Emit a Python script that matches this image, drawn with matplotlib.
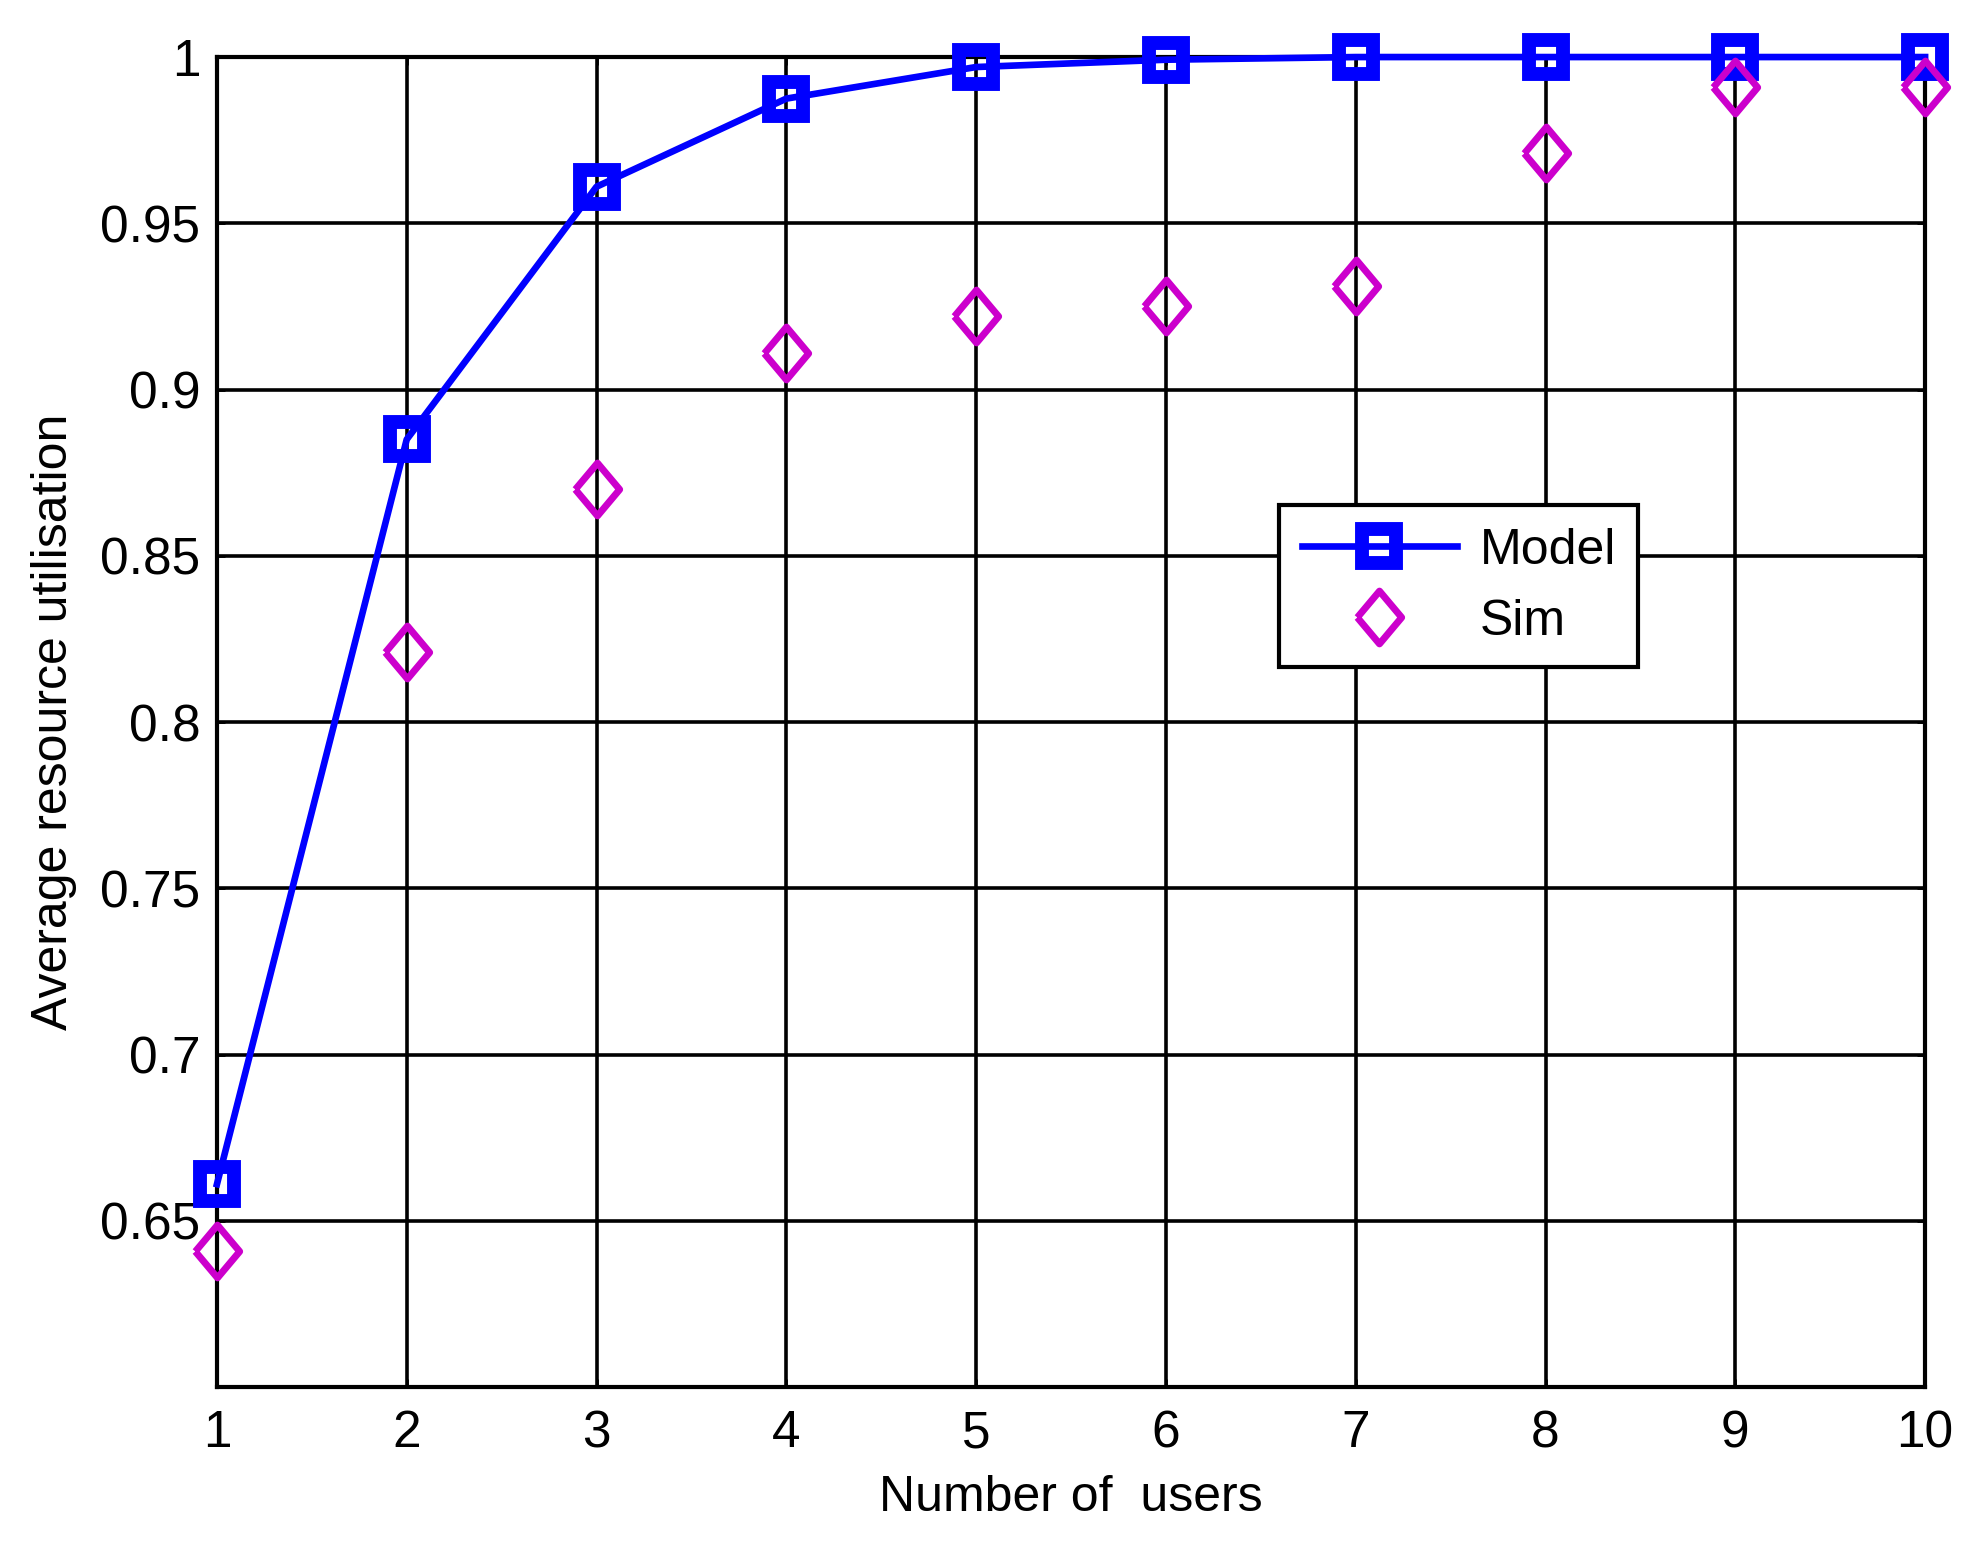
import matplotlib
matplotlib.use("Agg")
import matplotlib.pyplot as plt

plt.rcParams["font.family"] = ["Liberation Sans", "DejaVu Sans"]

# Data
users = [1, 2, 3, 4, 5, 6, 7, 8, 9, 10]
model = [0.661, 0.885, 0.961, 0.9875, 0.997, 0.9992, 1.0, 1.0, 1.0, 1.0]
sim = [0.641, 0.821, 0.870, 0.911, 0.922, 0.925, 0.931, 0.971, 0.991, 0.991]
yticks = [0.65, 0.7, 0.75, 0.8, 0.85, 0.9, 0.95, 1.0]
ytick_labels = ["0.65", "0.7", "0.75", "0.8", "0.85", "0.9", "0.95", "1"]

# slightly tall diamond, like MATLAB's 'd' marker in the figure
tall_diamond = [(-0.84, 0.0), (0.0, 1.0), (0.84, 0.0), (0.0, -1.0), (-0.84, 0.0)]

fig = plt.figure(figsize=(19.83, 15.42), dpi=100)
ax = fig.add_axes([0.1094, 0.1005, 0.8614, 0.8625])

ax.plot(users, model, color="#0000ff", linewidth=4.8, marker="s",
        markersize=24, markerfacecolor="none", markeredgewidth=10,
        label="Model", zorder=4, clip_on=False)
ax.plot(users, sim, linestyle="none", color="#cc00cc", marker=tall_diamond,
        markersize=38, markerfacecolor="none", markeredgewidth=5,
        label="Sim", zorder=5, clip_on=False)

ax.set_xlim(1, 10)
ax.set_ylim(0.6, 1.0)
ax.set_xticks(users)
ax.set_yticks(yticks)
ax.set_yticklabels(ytick_labels)
ax.tick_params(labelsize=37, direction="in", top=True, right=True,
               length=6, width=2)
ax.tick_params(axis="x", pad=16)
ax.tick_params(axis="y", pad=12)
ax.grid(True, color="black", linewidth=2.6, linestyle="-")
ax.set_axisbelow(True)
for sp in ax.spines.values():
    sp.set_linewidth(3)

ax.set_xlabel("Number of  users", fontsize=36, labelpad=12)
ax.set_ylabel("Average resource utilisation", fontsize=36, labelpad=17)

leg = ax.legend(loc="upper left", bbox_to_anchor=(0.622, 0.663),
                borderaxespad=0, fontsize=36, frameon=True, fancybox=False,
                framealpha=1, edgecolor="black", handlelength=3.1,
                handletextpad=0.45, borderpad=0.45, labelspacing=0.5)
leg.get_frame().set_linewidth(3)

fig.savefig("out.png", dpi=100)
